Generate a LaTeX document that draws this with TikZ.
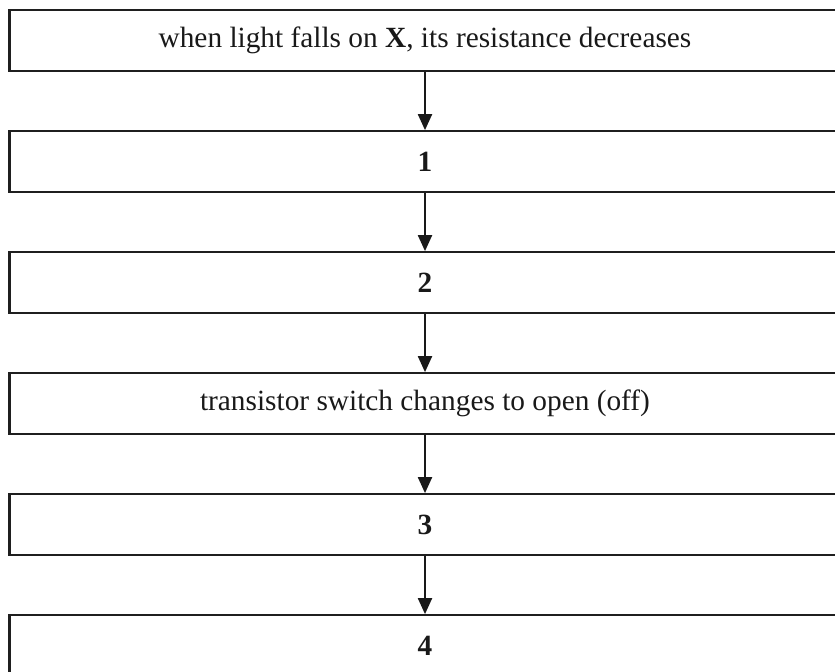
\documentclass[tikz,border=0pt]{standalone}
\usepackage{fontspec}
\setmainfont{Liberation Serif}
\usetikzlibrary{arrows.meta}
\begin{document}
\begin{tikzpicture}[x=0.75pt,y=-0.75pt,
  stepbox/.style={draw=black!88,line width=1.9pt,minimum width=831*0.75pt,minimum height=61*0.75pt,inner sep=0pt,font=\fontsize{22}{26}\selectfont,text=black!90},
  flow/.style={draw=black!90,line width=1.5pt,-{Triangle[length=12pt,width=10.5pt]},shorten >=-0.3pt}]
\useasboundingbox (0,0) rectangle (835,671);
\clip (0,0) rectangle (835,671);
\node[stepbox] (b0) at (425,40.5) {when light falls on \textbf{X}, its resistance decreases};
\node[stepbox] (b1) at (425,161.5) {\textbf{1}};
\node[stepbox] (b2) at (425,282.5) {\textbf{2}};
\node[stepbox] (b3) at (425,403.5) {transistor switch changes to open (off)};
\node[stepbox] (b4) at (425,524.5) {\textbf{3}};
\node[stepbox] (b5) at (425,645.5) {\textbf{4}};
\draw[flow] (b0.south) -- (b1.north);
\draw[flow] (b1.south) -- (b2.north);
\draw[flow] (b2.south) -- (b3.north);
\draw[flow] (b3.south) -- (b4.north);
\draw[flow] (b4.south) -- (b5.north);
\end{tikzpicture}
\end{document}
